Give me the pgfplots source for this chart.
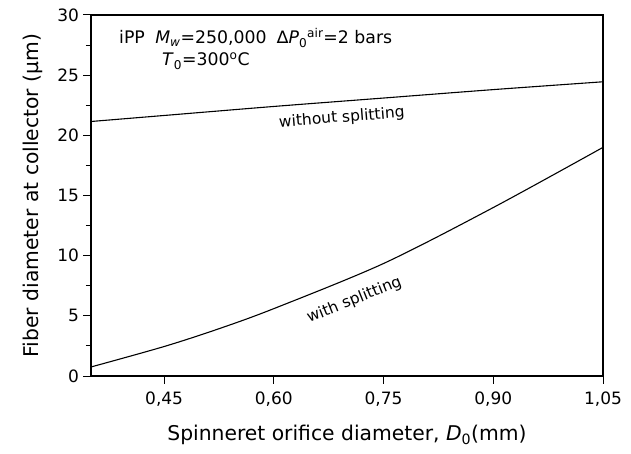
\documentclass[border=0pt]{standalone}
\usepackage{fontspec}
\setmainfont{DejaVu Sans}
\usepackage{pgfplots}
\pgfplotsset{compat=1.18}
\begin{document}
\begin{tikzpicture}
\begin{axis}[
  scale only axis, width=512bp, height=361bp,
  xmin=0.35, xmax=1.05, ymin=0, ymax=30,
  xtick={0.45,0.60,0.75,0.90,1.05},
  ytick={0,5,10,15,20,25,30},
  minor ytick={2.5,7.5,12.5,17.5,22.5,27.5},
  tick align=outside, xtick pos=left, ytick pos=left,
  major tick length=7.5bp, minor tick length=5bp,
  axis line style={line width=1.1pt},
  every tick/.style={line width=1pt, black},
  /pgf/number format/assume math mode=true,
  xticklabel style={yshift=-5bp, /pgf/number format/.cd, use comma, fixed, fixed zerofill, precision=2},
  yticklabel style={xshift=-1bp, /pgf/number format/.cd, fixed, precision=0},
  tick label style={font=\fontsize{17bp}{20bp}\selectfont},
  label style={font=\fontsize{20.3bp}{24bp}\selectfont},
  xlabel={Spinneret orifice diameter, \textit{D}\textsubscript{0}(mm)},
  ylabel={Fiber diameter at collector (µm)},
  xlabel style={yshift=-12bp},
  ylabel style={yshift=8bp},
]
\addplot[black, line width=1.1pt, smooth] coordinates {
  (0.35,21.15) (0.45,21.65) (0.60,22.4) (0.75,23.1) (0.90,23.8) (1.05,24.45)
};
\addplot[black, line width=1.1pt, smooth] coordinates {
  (0.35,0.75) (0.45,2.45) (0.525,3.93) (0.60,5.6) (0.75,9.35) (0.90,14.0) (1.05,19.0)
};
\node[rotate=4.5, font=\fontsize{15.5bp}{18bp}\selectfont] at (axis cs:0.693,21.45) {without splitting};
\node[rotate=22, font=\fontsize{15.5bp}{18bp}\selectfont] at (axis cs:0.71,6.3) {with splitting};
\coordinate (bl) at (rel axis cs:0,0);
\coordinate (tl) at (rel axis cs:0,1);
\end{axis}
\node[anchor=base west, font=\fontsize{17.3bp}{20bp}\selectfont, inner sep=0pt] at ([shift={(28bp,-29bp)}]tl)
  {iPP\hspace{0.6em}\textit{M}\textsubscript{\textit{w}}=250,000\hspace{0.6em}∆\textit{P}\textsubscript{0}\textsuperscript{air}=2 bars};
\node[anchor=base west, font=\fontsize{17.3bp}{20bp}\selectfont, inner sep=0pt] at ([shift={(71bp,-51bp)}]tl)
  {\textit{T}\textsubscript{0}=300\textsuperscript{o}C};
\pgfresetboundingbox
\path[use as bounding box] ([shift={(-91bp,-78bp)}]bl) rectangle ([shift={(540bp,376bp)}]bl);
\end{tikzpicture}
\end{document}
